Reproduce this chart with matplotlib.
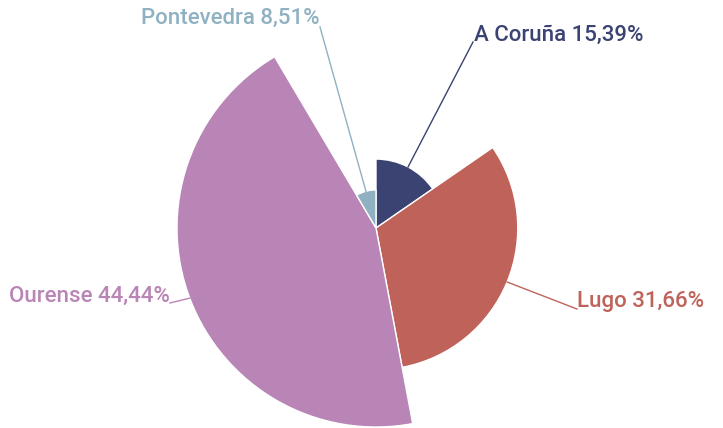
import numpy as np
import matplotlib.pyplot as plt
from matplotlib.patches import Wedge

# datos (porcentaje por provincia)
provincias = ["A Coruña", "Lugo", "Ourense", "Pontevedra"]
valores = [15.39, 31.66, 44.44, 8.51]
colores = ["#3b4372", "#bf635a", "#b984b6", "#8fb1c2"]
etiquetas = ["A Coruña 15,39%", "Lugo 31,66%", "Ourense 44,44%", "Pontevedra 8,51%"]

# posiciones de las etiquetas (pixeles) y alineación
pos_texto = [(474, 35, "left"), (577, 301, "left"), (170, 296, "right"), (320, 18, "right")]
fin_linea = [(473, 42), (577, 309), (170, 303), (320, 27)]

plt.rcParams['font.family'] = ['Roboto', 'DejaVu Sans']

fig = plt.figure(figsize=(7.23, 4.28), dpi=100)
ax = fig.add_axes([0, 0, 1, 1])
ax.set_xlim(0, 723)
ax.set_ylim(428, 0)
ax.axis("off")

cx, cy = 376, 228
r_max = 199
total = sum(valores)
vmax = max(valores)

ang = 0.0  # grados, sentido horario desde arriba
for i, v in enumerate(valores):
    span = v / total * 360
    r = v / vmax * r_max
    # Wedge usa ángulos antihorarios desde el eje x; con el eje y invertido se ve horario
    t1 = ang - 90
    t2 = ang + span - 90
    ax.add_patch(Wedge((cx, cy), r, t1, t2, facecolor=colores[i],
                       edgecolor="white", linewidth=1))
    mid = np.radians(ang + span / 2)
    px = cx + r * np.sin(mid)
    py = cy - r * np.cos(mid)
    ex, ey = fin_linea[i]
    ax.plot([px, ex], [py, ey], color=colores[i], linewidth=1)
    tx, ty, ha = pos_texto[i]
    ax.text(tx, ty, etiquetas[i], color=colores[i], fontsize=16,
            fontweight="medium", ha=ha, va="center")
    ang += span

fig.savefig("out.png", dpi=100)
